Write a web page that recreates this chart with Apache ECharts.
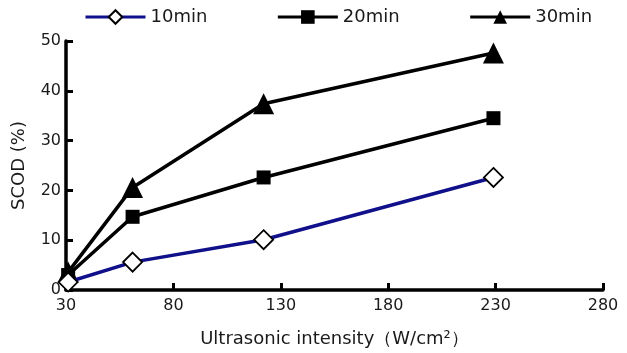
<!DOCTYPE html>
<html>
<head>
<meta charset="utf-8">
<script src="https://cdn.jsdelivr.net/npm/echarts@6/dist/echarts.min.js"></script>
<style>
html,body{margin:0;padding:0;background:#fff;}
#chart{width:627px;height:353px;}
</style>
</head>
<body>
<div id="chart"></div>
<script>
// intensity (W/cm2)
var intensity = [31, 61, 122, 229];
var scod_10min = [1.6, 5.6, 10.1, 22.6];
var scod_20min = [3.0, 14.7, 22.6, 34.5];
var scod_30min = [3.6, 20.6, 37.4, 47.6];
var series_names = ['10min', '20min', '30min'];

var font = 'DejaVu Sans, Liberation Sans, sans-serif';
var chart = echarts.init(document.getElementById('chart'));

function toPairs(vals){
	return intensity.map(function(x, i){ return [x, vals[i]]; });
}

chart.setOption({
	animation: false,
	legend: {
		top: 3,
		left: 79,
		itemGap: 69,
		itemWidth: 60,
		itemHeight: 17,
		lineStyle: {width: 3},
		textStyle: {fontFamily: font, fontSize: 18, color: '#1a1a1a'},
		data: series_names
	},
	grid: {left: 66, right: 24, top: 41, bottom: 63},
	xAxis: {
		type: 'value',
		min: 30, max: 280, interval: 50,
		name: 'Ultrasonic intensity（W/cm²）',
		nameLocation: 'middle',
		nameGap: 40,
		nameTextStyle: {fontFamily: font, fontSize: 18, color: '#1a1a1a'},
		axisLine: {lineStyle: {color: '#000', width: 3.5}},
		axisTick: {inside: true, length: 7, lineStyle: {color: '#000', width: 3}},
		axisLabel: {fontFamily: font, fontSize: 16, color: '#1a1a1a', margin: 8},
		splitLine: {show: false}
	},
	yAxis: {
		type: 'value',
		min: 0, max: 50, interval: 10,
		name: 'SCOD (%)',
		nameLocation: 'middle',
		nameGap: 38,
		nameTextStyle: {fontFamily: font, fontSize: 18, color: '#1a1a1a'},
		axisLine: {show: true, lineStyle: {color: '#000', width: 3.5}},
		axisTick: {show: true, inside: true, length: 7, lineStyle: {color: '#000', width: 3}},
		axisLabel: {fontFamily: font, fontSize: 16, color: '#1a1a1a', margin: 5},
		splitLine: {show: false}
	},
	series: [{
		name: '10min',
		type: 'line',
		data: toPairs(scod_10min),
		symbol: 'diamond',
		symbolSize: 19,
		itemStyle: {color: '#fff', borderColor: '#000', borderWidth: 1.8},
		lineStyle: {color: '#10108a', width: 3.5},
		z: 3
	},{
		name: '20min',
		type: 'line',
		data: toPairs(scod_20min),
		symbol: 'rect',
		symbolSize: 14,
		itemStyle: {color: '#000'},
		lineStyle: {color: '#000', width: 3.5},
		z: 2
	},{
		name: '30min',
		type: 'line',
		data: toPairs(scod_30min),
		symbol: 'triangle',
		symbolSize: 21,
		itemStyle: {color: '#000'},
		lineStyle: {color: '#000', width: 3.5},
		z: 2
	}]
});
</script>
</body>
</html>
